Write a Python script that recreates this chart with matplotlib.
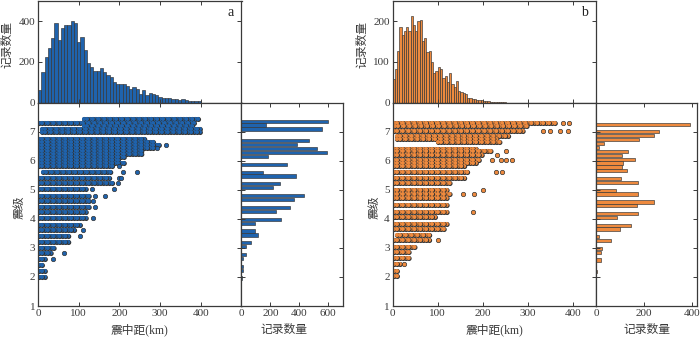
import matplotlib
matplotlib.use("Agg")
import matplotlib.pyplot as plt

# ---- top histograms: counts per distance bin ----
A_BIN_KM = 8
A_DIST_COUNTS = [63, 152, 223, 267, 318, 393, 307, 365, 382, 382,
                 400, 390, 298, 322, 258, 195, 175, 157, 157, 172,
                 150, 135, 127, 102, 90, 90, 93, 82, 68, 77,
                 68, 43, 63, 38, 47, 42, 35, 27, 23, 22,
                 20, 18, 15, 14, 16, 10, 8, 6, 5, 8]
B_BIN_KM = 5
B_DIST_COUNTS = [57, 82, 128, 185, 166, 176, 185, 175, 212, 192,
                 176, 200, 202, 152, 160, 125, 128, 100, 72, 78,
                 88, 82, 60, 65, 50, 72, 45, 38, 52, 28,
                 25, 24, 20, 12, 10, 9, 8, 6, 5, 5,
                 4, 3, 3, 2, 2, 1, 1, 1, 1, 1]

# ---- right histograms: counts per magnitude bin ----
A_MAG_CENTERS = [7.36, 7.225, 7.09, 6.685, 6.55, 6.415, 6.28, 6.145, 5.875, 5.605,
                 5.47, 5.20, 5.065, 4.795, 4.66, 4.39, 4.255, 3.985, 3.85, 3.58,
                 3.445, 3.175, 3.04, 2.77, 2.635, 2.365, 2.23, 1.96]
A_MAG_COUNTS = [600, 168, 556, 467, 386, 526, 593, 186, 313, 152,
                375, 264, 221, 430, 366, 338, 239, 274, 94, 94,
                113, 64, 30, 32, 11, 11, 7, 3]
B_MAG_CENTERS = [7.24, 6.99, 6.86, 6.72, 6.59, 6.45, 6.32, 6.19, 6.05, 5.92,
                 5.78, 5.65, 5.38, 5.25, 4.98, 4.85, 4.58, 4.45, 4.19, 4.05,
                 3.78, 3.65, 3.38, 3.25, 2.98, 2.85, 2.58, 2.45, 2.18, 2.05]
B_MAG_COUNTS = [392, 260, 243, 180, 34, 14, 131, 110, 161, 114,
                110, 127, 104, 174, 85, 174, 243, 170, 175, 87,
                146, 99, 12, 64, 27, 21, 20, 2, 3, 1]

# ---- scatter: dense rows (magnitude, from km, to km) and isolated points ----
A_ROW_MAG = [7.43, 7.31, 7.2, 7.1, 7.0, 6.75, 6.64, 6.54, 6.44, 6.32, 6.22, 6.13,
             6.01, 5.92, 5.82, 5.62, 5.41, 5.23, 5.02, 4.8, 4.61, 4.41, 4.22,
             4.02, 3.8, 3.61, 3.4, 3.21, 3.01, 2.82, 2.61, 2.41, 2.21, 2.0]
A_ROW_FROM = [114, 3, 114, 10, 10, 3, 3, 3, 3, 3, 3, 3,
              3, 3, 3, 12, 3, 3, 3, 3, 3, 3, 3,
              3, 3, 3, 3, 3, 3, 3, 3, 3, 3, 3]
A_ROW_TO = [398, 385, 385, 398, 398, 265, 285, 300, 288, 255, 255, 215,
            200, 213, 185, 185, 180, 185, 120, 125, 125, 125, 120,
            120, 105, 90, 80, 78, 45, 35, 20, 15, 18, 18]
A_PT_KM = [315, 293, 200, 210, 243, 200, 205, 197, 133, 187, 140, 164,
           135, 140, 135, 110, 104, 63, 38]
A_PT_MAG = [6.54, 6.44, 5.82, 5.62, 5.62, 5.41, 5.41, 5.23, 5.02, 5.02, 4.8, 4.8,
            4.61, 4.41, 4.02, 3.61, 3.4, 2.82, 2.61]

B_ROW_MAG = [7.31, 7.2, 7.01, 6.86, 6.75, 6.64, 6.41, 6.32, 6.2, 6.03, 5.92, 5.8,
             5.62, 5.41, 5.23, 5.0, 4.85, 4.7, 4.47, 4.25, 4.07, 3.82, 3.66,
             3.43, 3.26, 3.02, 2.85, 2.65, 2.45, 2.21, 2.04]
B_ROW_FROM = [3, 5, 3, 10, 10, 100, 3, 3, 3, 3, 3, 3,
              3, 3, 3, 3, 3, 3, 3, 3, 3, 3, 3,
              10, 3, 3, 3, 3, 3, 3, 3]
B_ROW_TO = [360, 300, 290, 260, 230, 240, 190, 220, 200, 195, 185, 160,
            170, 165, 130, 120, 130, 125, 125, 120, 97, 125, 115,
            85, 85, 55, 40, 40, 20, 10, 10]
B_PT_KM = [378, 390, 333, 348, 370, 389, 250, 230, 220, 240, 250, 265,
           228, 243, 200, 155, 180, 178, 100, 25]
B_PT_MAG = [7.31, 7.31, 7.01, 7.01, 7.01, 7.01, 6.32, 6.2, 6.03, 6.03, 6.03, 6.03,
            5.62, 5.62, 5.0, 4.85, 4.85, 4.25, 3.26, 2.45]

BLUE = "#1f63ad"
ORANGE = "#ee8a3e"
EDGE = "#333333"
TXT = "#3a3a3a"
SERIF = ["Liberation Serif", "DejaVu Serif"]
CJK = ["Liberation Serif", "Noto Sans CJK SC"]

plt.rcParams["lines.scale_dashes"] = False

W, H = 700, 337
fig = plt.figure(figsize=(7.0, 3.37), dpi=100)


def rect(l, t, r, b):
    return [l / W, 1 - b / H, (r - l) / W, (b - t) / H]


def style(ax):
    for s in ax.spines.values():
        s.set_color(TXT)
        s.set_linewidth(0.9)
    ax.tick_params(direction="in", length=3, width=0.7, colors=TXT,
                   top=True, right=True, labelsize=8, pad=2)
    for lab in ax.get_xticklabels() + ax.get_yticklabels():
        lab.set_family(SERIF)


def panel(x0, dist_bin, dist_counts, dist_max, hist_ymax, hist_yticks,
          mag_c, mag_n, mag_xmax, mag_xticks, cnt_label_dx,
          row_m, row_a, row_b, pt_x, pt_m, color, letter):
    xl, xr = x0, x0 + 203.5
    ax_top = fig.add_axes(rect(xl, 1, xr, 102.5))
    ax_sc = fig.add_axes(rect(xl, 102.5, xr, 306))
    ax_rt = fig.add_axes(rect(xr, 102.5, xr + 101, 306))

    # top histogram
    lefts = [i * dist_bin for i in range(len(dist_counts))]
    ax_top.bar(lefts, dist_counts, width=dist_bin, align="edge", color=color,
               edgecolor=EDGE, linewidth=0.45)
    ax_top.set_xlim(0, dist_max)
    ax_top.set_ylim(0, hist_ymax)
    ax_top.set_yticks(hist_yticks)
    ax_top.set_xticks([0, 100, 200, 300, 400])
    style(ax_top)
    ax_top.tick_params(labelbottom=False)
    ax_top.text(0.945, 0.89, letter, transform=ax_top.transAxes, ha="center",
                va="center", fontsize=10, family=SERIF, color="#222222")

    # scatter: dense rows drawn as strings of overlapping edged markers
    for m, a, b in zip(row_m, row_a, row_b):
        for off in (0.0, 2.1):
            beads = (off, (0.01, 4.2))
            ax_sc.plot([a, b], [m, m], color=EDGE, lw=3.7, linestyle=beads,
                       dash_capstyle="round", zorder=2)
            ax_sc.plot([a, b], [m, m], color=color, lw=3.0, linestyle=beads,
                       dash_capstyle="round", zorder=2)
    ax_sc.scatter(pt_x, pt_m, s=10, facecolor=color, edgecolor=EDGE,
                  linewidths=0.5, zorder=3)
    ax_sc.set_xlim(0, dist_max)
    ax_sc.set_ylim(1, 8)
    ax_sc.set_xticks([0, 100, 200, 300, 400])
    ax_sc.set_yticks([1, 2, 3, 4, 5, 6, 7])
    style(ax_sc)

    # right histogram
    ax_rt.barh(mag_c, mag_n, height=0.11, color=color, edgecolor=EDGE,
               linewidth=0.45)
    ax_rt.set_ylim(1, 8)
    ax_rt.set_xlim(0, mag_xmax)
    ax_rt.set_xticks(mag_xticks)
    ax_rt.set_yticks([1, 2, 3, 4, 5, 6, 7])
    style(ax_rt)
    ax_rt.tick_params(labelleft=False)

    # labels
    fig.text((xl - 30) / W, 1 - 44 / H, "记录数量", rotation=90, ha="center",
             va="center", fontsize=8.5, family=CJK, color=TXT)
    fig.text((xl - 18) / W, 1 - 207 / H, "震级", rotation=90, ha="center",
             va="center", fontsize=8.5, family=CJK, color=TXT)
    fig.text((xl + xr) / 2 / W, 1 - 330 / H, "震中距(km)", ha="center",
             va="center", fontsize=8.5, family=CJK, color=TXT)
    fig.text((xr + cnt_label_dx) / W, 1 - 330 / H, "记录数量", ha="center",
             va="center", fontsize=8.5, family=CJK, color=TXT)


panel(38, A_BIN_KM, A_DIST_COUNTS, 500, 500, [0, 200, 400],
      A_MAG_CENTERS, A_MAG_COUNTS, 700, [0, 200, 400, 600], 43,
      A_ROW_MAG, A_ROW_FROM, A_ROW_TO, A_PT_KM, A_PT_MAG, BLUE, "a")
panel(392.5, B_BIN_KM, B_DIST_COUNTS, 450, 250, [0, 100, 200],
      B_MAG_CENTERS, B_MAG_COUNTS, 420, [0, 200, 400], 51,
      B_ROW_MAG, B_ROW_FROM, B_ROW_TO, B_PT_KM, B_PT_MAG, ORANGE, "b")

fig.savefig("out.png", dpi=100)
